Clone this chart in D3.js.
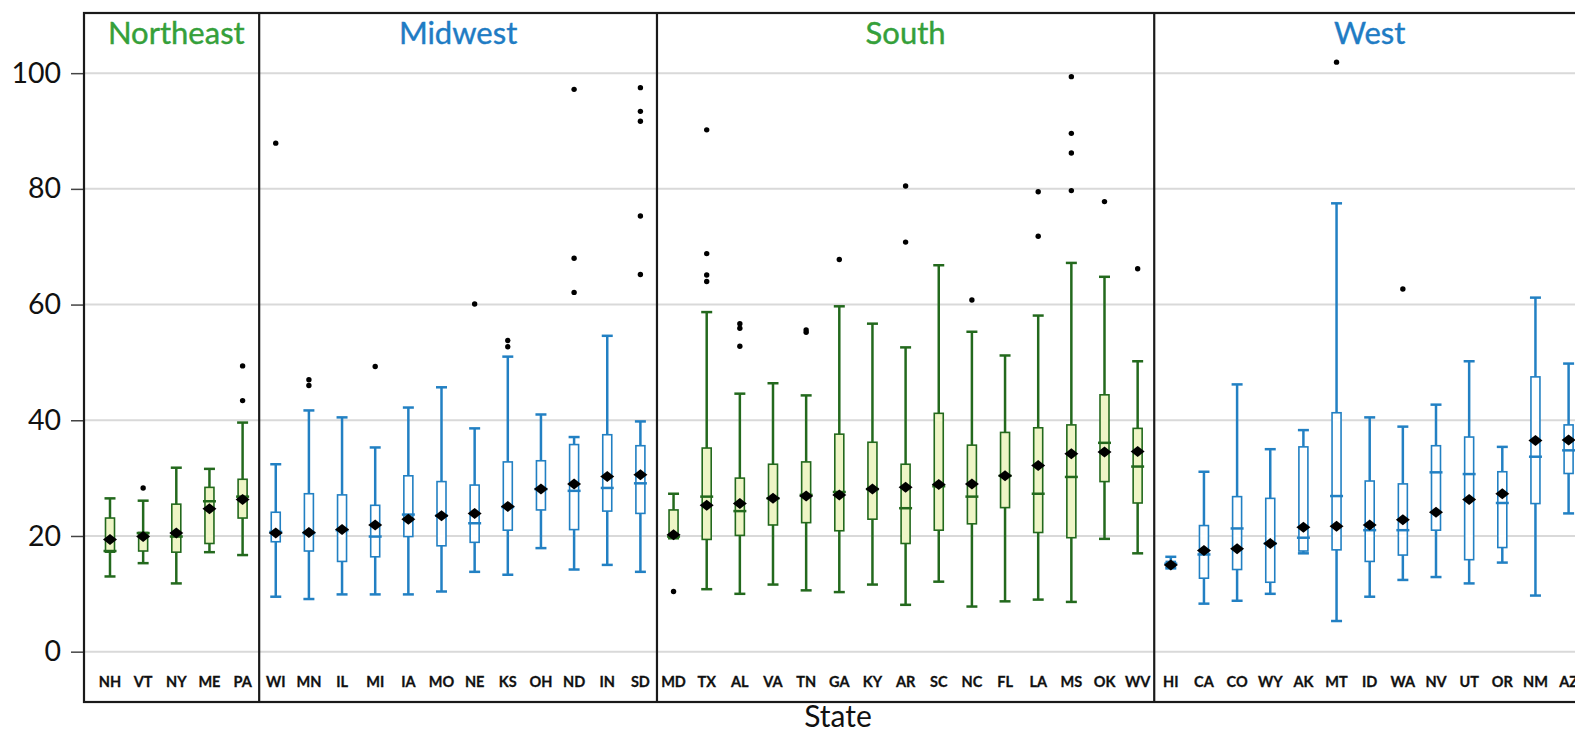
<!DOCTYPE html>
<html>
<head>
<meta charset="utf-8">
<script src="https://cdn.jsdelivr.net/npm/d3@7"></script>
<style>
  body { margin: 0; background: #fff; }
  text { font-family: Lato, "Open Sans", sans-serif; }
</style>
</head>
<body>
<svg id="chart"></svg>
<script>
// states in plotting order, grouped by region
const states = ["NH","VT","NY","ME","PA",
  "WI","MN","IL","MI","IA","MO","NE","KS","OH","ND","IN","SD",
  "MD","TX","AL","VA","TN","GA","KY","AR","SC","NC","FL","LA","MS","OK","WV",
  "HI","CA","CO","WY","AK","MT","ID","WA","NV","UT","OR","NM","AZ"]
const regions = ["Northeast","Midwest","South","West"]
const regionSize = [5, 12, 15, 13]

const whiskLo = [13.0,15.3,11.8,17.2,16.7,
  9.5,9.1,9.9,9.9,9.9,10.4,13.8,13.3,17.9,14.2,15.0,13.8,
  19.6,10.8,10.0,11.6,10.6,10.3,11.6,8.1,12.1,7.8,8.7,9.0,8.6,19.5,17.0,
  14.4,8.3,8.8,10.0,17.0,5.3,9.5,12.4,12.9,11.8,15.4,9.7,23.9]
const q1 = [17.2,17.4,17.2,18.7,23.1,
  19.0,17.4,15.6,16.4,19.9,18.3,18.9,21.0,24.5,21.1,24.3,23.9,
  19.8,19.4,20.1,21.9,22.3,20.9,22.9,18.7,21.0,22.1,24.9,20.6,19.7,29.4,25.7,
  14.6,12.7,14.2,12.0,17.4,17.6,15.6,16.7,21.0,15.9,18.0,25.6,30.8]
const median = [17.4,20.5,19.9,26.0,26.8,
  20.7,20.5,21.0,19.9,23.7,23.5,22.2,25.0,28.1,27.8,28.3,29.1,
  19.9,26.8,24.3,26.5,27.1,27.6,28.1,24.8,28.6,26.8,30.4,27.3,30.2,36.1,32.0,
  15.2,16.8,21.3,18.7,19.7,26.9,21.0,21.0,31.0,30.7,25.7,33.7,34.8]
const q3 = [23.1,20.6,25.5,28.4,29.8,
  24.1,27.3,27.1,25.3,30.4,29.4,28.8,32.8,33.0,35.8,37.5,35.6,
  24.5,35.2,30.0,32.4,32.8,37.6,36.2,32.4,41.2,35.7,37.9,38.7,39.2,44.4,38.6,
  15.6,21.8,26.8,26.5,35.4,41.3,29.5,29.0,35.6,37.1,31.1,47.5,39.2]
const whiskHi = [26.5,26.1,31.8,31.6,39.6,
  32.4,41.7,40.5,35.3,42.2,45.7,38.6,51.0,41.0,37.1,54.6,39.8,
  27.3,58.7,44.6,46.4,44.3,59.7,56.7,52.6,66.8,55.3,51.2,58.1,67.2,64.8,50.2,
  16.4,31.1,46.2,35.0,38.3,77.5,40.5,38.9,42.7,50.2,35.4,61.2,49.8]
const means = [19.4,19.9,20.5,24.7,26.3,
  20.5,20.6,21.1,21.9,22.9,23.5,23.9,25.1,28.1,29.0,30.3,30.6,
  20.2,25.3,25.6,26.5,26.9,27.1,28.1,28.4,28.9,29.0,30.4,32.2,34.2,34.5,34.6,
  15.0,17.5,17.8,18.7,21.5,21.7,21.9,22.8,24.1,26.3,27.3,36.5,36.6]
const outliers = [[],[28.3],[],[],[43.4,49.4],
  [87.9],[46.0,47.0],[],[49.3],[],[],[60.1],[52.7,53.8],[],[62.1,68.0,97.2],[],[65.2,75.3,91.7,93.4,97.5],
  [10.4],[64.0,65.1,68.8,90.2],[52.8,55.9,56.7],[],[55.2,55.6],[67.8],[],[70.8,80.5],[],[60.8],[],[71.8,79.5],[79.7,86.2,89.6,99.4],[77.8],[66.2],
  [],[],[],[],[],[101.9],[],[62.7],[],[],[],[],[]]
const yTicks = [0, 20, 40, 60, 80, 100]

const width = 1575
const height = 733
const style = {
  Northeast: {line: "#23691d", title: "#35a03a", fill: "#eef5c6"},
  Midwest:   {line: "#2280c3", title: "#1f7cc4", fill: "#ffffff"},
  South:     {line: "#23691d", title: "#35a03a", fill: "#eef5c6"},
  West:      {line: "#2280c3", title: "#1f7cc4", fill: "#ffffff"}
}

// region of each state
const stateRegion = []
regions.forEach((r, i) => { for (let k = 0; k < regionSize[i]; k++) stateRegion.push(r) })

const svg = d3.select("#chart").attr("width", width).attr("height", height)

const x = d3.scalePoint().domain(states).range([110, 1568.6])
const step = x.step()
const y = d3.scaleLinear().domain([-8.7, 110.4]).range([702, 13])

const plotLeft = 84
const plotRight = x(states[states.length - 1]) + step / 2

// grid
svg.append("g").selectAll("line").data(yTicks).join("line")
  .attr("x1", plotLeft).attr("x2", plotRight)
  .attr("y1", d => y(d)).attr("y2", d => y(d))
  .attr("stroke", "#d9d9d9").attr("stroke-width", 2)

// y axis
const yAxis = d3.axisLeft(y).tickValues(yTicks).tickSize(13).tickPadding(10)
const ga = svg.append("g").attr("transform", `translate(${plotLeft},0)`).call(yAxis)
ga.select(".domain").remove()
ga.selectAll(".tick line").attr("stroke", "#444").attr("stroke-width", 1.5)
ga.selectAll(".tick text").attr("font-size", 28.5).attr("fill", "#111")
  .style("font-family", "Lato, sans-serif")

// panels: titles and dividers
let start = 0
const panels = regions.map((r, i) => {
  const first = states[start], last = states[start + regionSize[i] - 1]
  start += regionSize[i]
  return {region: r, x0: x(first) - step / 2, x1: x(last) + step / 2}
})

svg.append("g").selectAll("text").data(panels).join("text")
  .attr("x", d => (d.x0 + d.x1) / 2).attr("y", 44)
  .attr("text-anchor", "middle").attr("font-size", 31)
  .attr("fill", d => style[d.region].title)
  .attr("stroke", d => style[d.region].title).attr("stroke-width", 0.4)
  .text(d => d.region)

svg.append("g").selectAll("line").data(panels.slice(1)).join("line")
  .attr("x1", d => d.x0).attr("x2", d => d.x0)
  .attr("y1", y.range()[1]).attr("y2", y.range()[0])
  .attr("stroke", "#1a1a1a").attr("stroke-width", 2.2)

// frame
svg.append("rect")
  .attr("x", plotLeft).attr("y", y.range()[1])
  .attr("width", plotRight + 20 - plotLeft).attr("height", y.range()[0] - y.range()[1])
  .attr("fill", "none").attr("stroke", "#1a1a1a").attr("stroke-width", 2.2)

// state labels
svg.append("g").selectAll("text").data(states).join("text")
  .attr("x", d => x(d)).attr("y", 687)
  .attr("text-anchor", "middle").attr("font-size", 14.5).attr("font-weight", 700)
  .attr("fill", "#111").attr("stroke", "#111").attr("stroke-width", 0.3)
  .text(d => d)

// x title
svg.append("text").attr("x", 838).attr("y", 727)
  .attr("text-anchor", "middle").attr("font-size", 30).attr("fill", "#111")
  .text("State")

// boxes
const boxW = 9, capW = 11, medW = 13
const rows = states.map((s, i) => ({s, reg: stateRegion[i], lo: whiskLo[i], q1: q1[i],
  med: median[i], q3: q3[i], hi: whiskHi[i], mean: means[i], out: outliers[i]}))

const g = svg.append("g").selectAll("g").data(rows).join("g")
  .attr("transform", d => `translate(${x(d.s)},0)`)

g.append("line").attr("class", "whisk")
  .attr("y1", d => y(d.lo)).attr("y2", d => y(d.q1))
g.append("line").attr("class", "whisk")
  .attr("y1", d => y(d.q3)).attr("y2", d => y(d.hi))
g.append("line").attr("class", "whisk")
  .attr("x1", -capW / 2).attr("x2", capW / 2)
  .attr("y1", d => y(d.hi)).attr("y2", d => y(d.hi))
g.append("line").attr("class", "whisk")
  .attr("x1", -capW / 2).attr("x2", capW / 2)
  .attr("y1", d => y(d.lo)).attr("y2", d => y(d.lo))
g.selectAll(".whisk").attr("stroke", d => style[d.reg].line).attr("stroke-width", 2.5)

g.append("rect")
  .attr("x", -boxW / 2).attr("width", boxW)
  .attr("y", d => y(d.q3)).attr("height", d => Math.max(1, y(d.q1) - y(d.q3)))
  .attr("fill", d => style[d.reg].fill)
  .attr("stroke", d => style[d.reg].line).attr("stroke-width", 1.6)

g.append("line")
  .attr("x1", -medW / 2).attr("x2", medW / 2)
  .attr("y1", d => y(d.med)).attr("y2", d => y(d.med))
  .attr("stroke", d => style[d.reg].line).attr("stroke-width", 2.5)

g.append("path")
  .attr("d", "M-7,0L0,-5.5L7,0L0,5.5Z")
  .attr("transform", d => `translate(0,${y(d.mean)})`)
  .attr("fill", "#000")

g.selectAll("circle").data(d => d.out).join("circle")
  .attr("cy", v => y(v)).attr("r", 2.7).attr("fill", "#000")
</script>
</body>
</html>
